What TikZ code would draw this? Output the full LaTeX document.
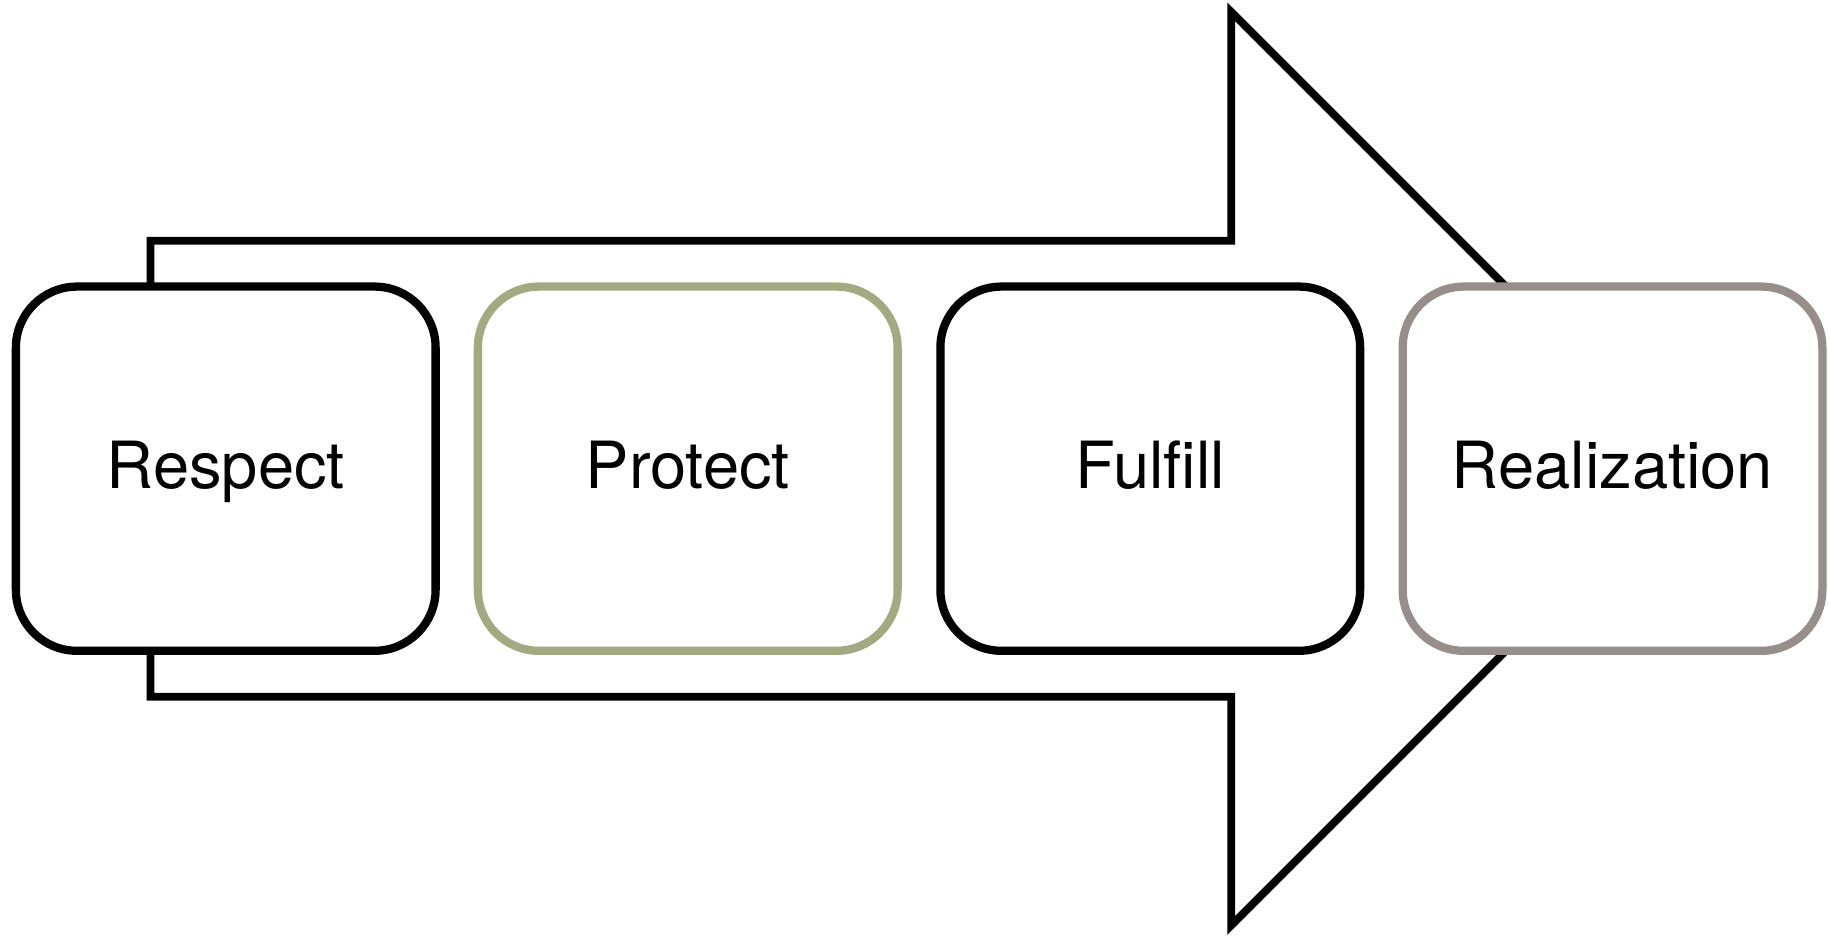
\documentclass[tikz,border=0pt]{standalone}
\usepackage{fontspec}
\setmainfont{TeX Gyre Heros}
\definecolor{boxgreen}{RGB}{163,169,128}
\definecolor{boxgray}{RGB}{151,142,140}
\begin{document}
\begin{tikzpicture}[x=0.01cm,y=-0.01cm,
  stagebox/.style={draw=#1, line width=2.35pt, fill=white, rounded corners=0.61cm,
    rectangle, minimum width=4.195cm, minimum height=3.64cm, inner sep=0pt,
    font=\fontsize{18.5}{22}\selectfont, text height=13.3pt, text depth=2.15pt},
  bigarrow/.style={draw=black, line width=2.2pt, fill=white, line join=miter}]
\useasboundingbox (0,0) rectangle (1829,937);
% big arrow
\coordinate (a1) at (150.5,240.7);
\coordinate (a2) at (1231.3,240.7);
\coordinate (a3) at (1231.3,12);
\coordinate (a4) at (1688,468.7);
\coordinate (a5) at (1231.3,925.4);
\coordinate (a6) at (1231.3,696.7);
\coordinate (a7) at (150.5,696.7);
\draw[bigarrow] (a1) -- (a2) -- (a3) -- (a4) -- (a5) -- (a6) -- (a7) -- cycle;
% stage boxes
\node[stagebox=black]     (respect) at (225.75,468.7) {Respect};
\node[stagebox=boxgreen]  (protect) at (687.75,468.7) {Protect};
\node[stagebox=black]     (fulfill) at (1150.25,468.7) {Fulfill};
\node[stagebox=boxgray]   (realize) at (1612.5,468.7) {Realization};
\end{tikzpicture}
\end{document}
